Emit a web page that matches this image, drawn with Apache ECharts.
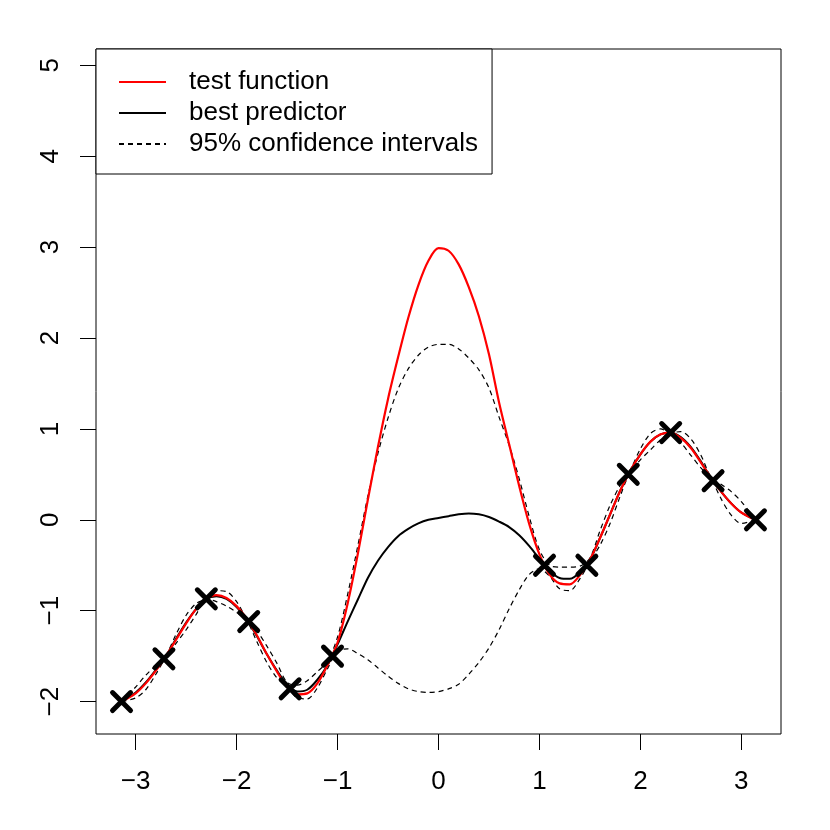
<!DOCTYPE html>
<html>
<head>
<meta charset="utf-8">
<script src="https://cdn.jsdelivr.net/npm/echarts@6/dist/echarts.min.js"></script>
<style>
  html, body { margin: 0; padding: 0; background: #fff; }
  #chart { width: 830px; height: 830px; }
</style>
</head>
<body>
<div id="chart"></div>
<script>
// x grid used by every curve
const xs = [-3.14, -3.0, -2.9, -2.8, -2.7, -2.6, -2.5, -2.4, -2.3, -2.2, -2.1, -2.0,
  -1.9, -1.8, -1.7, -1.6, -1.5, -1.4, -1.3, -1.2, -1.1, -1.0,
  -0.9, -0.8, -0.7, -0.6, -0.5, -0.4, -0.3, -0.2, -0.1, 0.0,
  0.1, 0.2, 0.3, 0.4, 0.5, 0.6, 0.7, 0.8, 0.9, 1.0,
  1.1, 1.2, 1.3, 1.4, 1.5, 1.6, 1.7, 1.8, 1.9, 2.0,
  2.1, 2.2, 2.3, 2.4, 2.5, 2.6, 2.7, 2.8, 2.9, 3.0, 3.14];

// test function (red)
const testFn = [-2.00, -1.91, -1.80, -1.66, -1.50, -1.32, -1.14, -0.98, -0.87, -0.83, -0.86, -0.95,
  -1.09, -1.27, -1.48, -1.67, -1.84, -1.92, -1.91, -1.80, -1.60, -1.35,
  -0.92, -0.38, 0.22, 0.80, 1.33, 1.79, 2.22, 2.58, 2.85, 2.99,
  2.96, 2.81, 2.56, 2.24, 1.82, 1.29, 0.83, 0.37, -0.05, -0.38,
  -0.60, -0.70, -0.71, -0.61, -0.44, -0.20, 0.06, 0.32, 0.54, 0.72,
  0.86, 0.94, 0.96, 0.90, 0.79, 0.63, 0.46, 0.31, 0.18, 0.08, 0.00];

// best predictor (black)
const predictor = [-2.00, -1.90, -1.79, -1.65, -1.50, -1.31, -1.13, -0.98, -0.87, -0.84, -0.87, -0.96,
  -1.10, -1.28, -1.48, -1.66, -1.81, -1.89, -1.87, -1.76, -1.60, -1.37,
  -1.12, -0.88, -0.64, -0.45, -0.30, -0.18, -0.10, -0.04, 0.00, 0.02,
  0.04, 0.06, 0.07, 0.06, 0.03, -0.02, -0.08, -0.17, -0.29, -0.43,
  -0.56, -0.64, -0.65, -0.58, -0.44, -0.20, 0.06, 0.32, 0.54, 0.72,
  0.86, 0.94, 0.96, 0.91, 0.80, 0.64, 0.46, 0.31, 0.18, 0.08, 0.00];

// 95% confidence bounds (dashed)
const upperCI = [-2.00, -1.84, -1.71, -1.60, -1.49, -1.26, -1.05, -0.92, -0.87, -0.78, -0.79, -0.90,
  -1.09, -1.22, -1.39, -1.58, -1.79, -1.82, -1.77, -1.67, -1.56, -1.29,
  -0.82, -0.29, 0.26, 0.73, 1.12, 1.44, 1.66, 1.81, 1.90, 1.93,
  1.93, 1.88, 1.78, 1.65, 1.45, 1.13, 0.82, 0.45, 0.03, -0.33,
  -0.50, -0.52, -0.52, -0.51, -0.42, -0.12, 0.16, 0.38, 0.55, 0.78,
  0.95, 1.00, 0.96, 0.97, 0.89, 0.71, 0.47, 0.39, 0.31, 0.20, 0.00];

const lowerCI = [-2.00, -1.96, -1.87, -1.70, -1.51, -1.36, -1.21, -1.04, -0.87, -0.90, -0.95, -1.02,
  -1.11, -1.34, -1.57, -1.74, -1.83, -1.96, -1.97, -1.85, -1.64, -1.45,
  -1.42, -1.47, -1.54, -1.63, -1.72, -1.80, -1.86, -1.89, -1.90, -1.89,
  -1.86, -1.81, -1.70, -1.57, -1.41, -1.21, -0.98, -0.77, -0.60, -0.54,
  -0.62, -0.76, -0.78, -0.65, -0.46, -0.28, -0.04, 0.26, 0.53, 0.66,
  0.77, 0.88, 0.96, 0.85, 0.71, 0.57, 0.45, 0.23, 0.05, -0.04, 0.00];

// observations (crosses)
const obsX = [-3.14, -2.72, -2.30, -1.88, -1.47, -1.05, 1.05, 1.47, 1.88, 2.30, 2.72, 3.14];
const obsY = [-2.00, -1.53, -0.87, -1.12, -1.86, -1.50, -0.50, -0.50, 0.50, 0.96, 0.43, 0.00];

const xTicks = [-3, -2, -1, 0, 1, 2, 3];
const yTicks = [-2, -1, 0, 1, 2, 3, 4, 5];

const FONT = 'Liberation Sans, Arial, Helvetica, sans-serif';

function pairs(ys) {
  return xs.map((x, i) => [x, ys[i]]);
}
function minusSign(v) {
  return String(v).replace('-', '\u2212');
}

const chart = echarts.init(document.getElementById('chart'), null, { renderer: 'canvas' });

const option = {
  backgroundColor: '#ffffff',
  animation: false,
  grid: {
    left: 96, right: 49, top: 49, bottom: 96,
    show: true, borderColor: '#000', borderWidth: 1, backgroundColor: 'transparent'
  },
  legend: {
    data: ['test function', 'best predictor', '95% confidence intervals'],
    orient: 'vertical',
    left: 96, top: 49,
    padding: [20, 14, 17, 22],
    itemGap: 5,
    itemWidth: 47,
    itemHeight: 14,
    backgroundColor: '#fff',
    borderColor: '#000',
    borderWidth: 1,
    borderRadius: 0,
    selectedMode: false,
    itemStyle: { opacity: 0 },
    textStyle: { fontFamily: FONT, fontSize: 26, color: '#000', padding: [0, 0, 0, 18] }
  },
  xAxis: {
    type: 'value',
    position: 'bottom',
    min: -3.393, max: 3.393,
    splitLine: { show: false },
    axisLine: { show: false, onZero: false },
    axisTick: { show: true, inside: false, length: 16, customValues: xTicks, lineStyle: { color: '#000', width: 1 } },
    axisLabel: { customValues: xTicks, margin: 35, fontFamily: FONT, fontSize: 26, color: '#000', formatter: minusSign }
  },
  yAxis: {
    type: 'value',
    position: 'left',
    min: -2.357, max: 5.18,
    splitLine: { show: false },
    axisLine: { show: false, onZero: false },
    axisTick: { show: true, inside: false, length: 16, customValues: yTicks, lineStyle: { color: '#000', width: 1 } },
    axisLabel: { customValues: yTicks, rotate: 90, margin: 32, fontFamily: FONT, fontSize: 26, color: '#000', formatter: minusSign }
  },
  series: [
    {
      name: '95% confidence intervals', type: 'line', data: pairs(upperCI),
      symbol: 'none', smooth: 0.3, z: 2,
      lineStyle: { color: '#000', width: 1.2, type: [5, 4] }, itemStyle: { color: '#000' }
    },
    {
      name: '95% confidence intervals', type: 'line', data: pairs(lowerCI),
      symbol: 'none', smooth: 0.3, z: 2,
      lineStyle: { color: '#000', width: 1.2, type: [5, 4] }, itemStyle: { color: '#000' }
    },
    {
      name: 'best predictor', type: 'line', data: pairs(predictor),
      symbol: 'none', smooth: 0.3, z: 3,
      lineStyle: { color: '#000', width: 2 }, itemStyle: { color: '#000' }
    },
    {
      name: 'test function', type: 'line', data: pairs(testFn),
      symbol: 'none', smooth: 0.3, z: 4,
      lineStyle: { color: '#ff0000', width: 2.2 }, itemStyle: { color: '#ff0000' }
    },
    {
      name: 'observations', type: 'scatter',
      data: obsX.map((x, i) => [x, obsY[i]]),
      symbol: 'path://M0,0L10,10M10,0L0,10',
      symbolSize: 18, z: 5,
      itemStyle: { color: 'transparent', opacity: 1, borderColor: '#000', borderWidth: 5, borderCap: 'round' }
    }
  ]
};

chart.setOption(option);
</script>
</body>
</html>
